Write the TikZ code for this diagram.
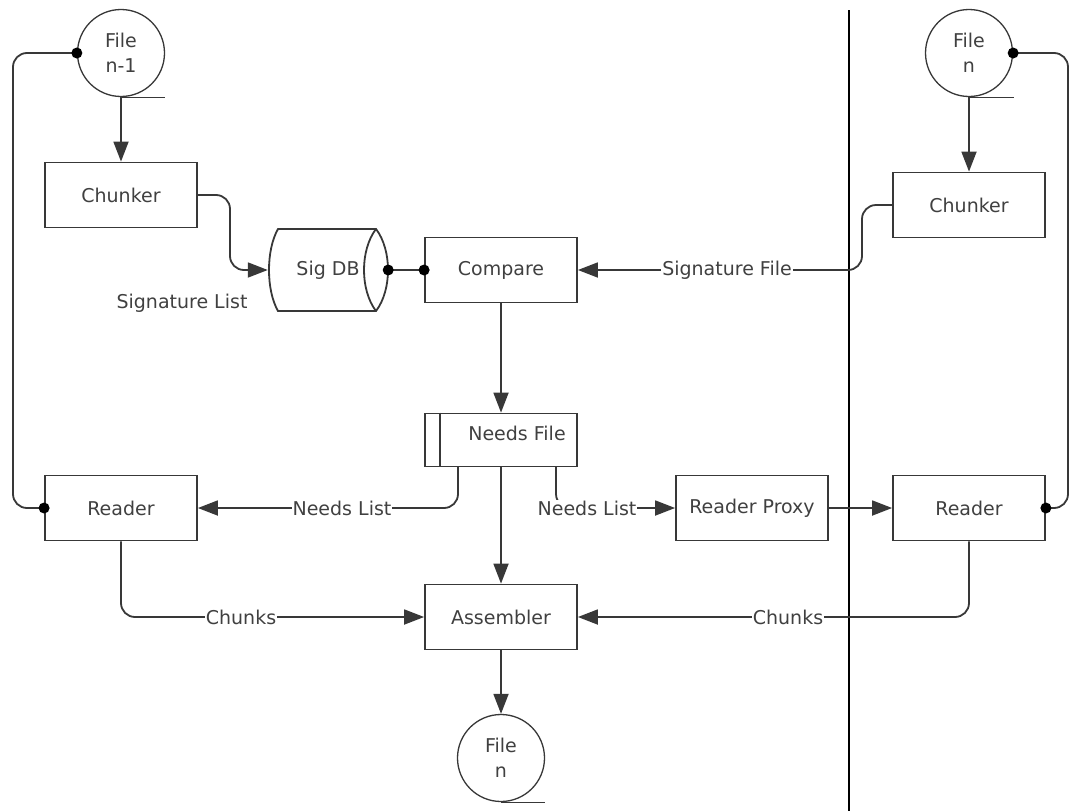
\documentclass[tikz,border=0pt]{standalone}
\usepackage{fontspec}
\setmainfont{DejaVu Sans}
\usetikzlibrary{arrows.meta}
\definecolor{ln}{HTML}{383838}
\definecolor{tx}{HTML}{404040}
\tikzset{
  every node/.style={text=tx, font=\fontsize{19}{25}\selectfont},
  proc/.style={draw=ln, line width=1.8pt, rectangle, minimum width=152pt, minimum height=65pt, inner sep=0pt},
  filenode/.style={draw=ln, line width=1.3pt, circle, minimum size=87pt, inner sep=0pt, align=center},
  lbl/.style={fill=white, inner sep=1pt},
  conn/.style={draw=ln, line width=1.8pt, rounded corners=14pt},
  arr/.style={conn, -{Triangle[length=20pt,width=15pt]}},
  dotc/.style={fill=black}
}
\begin{document}
\begin{tikzpicture}[x=1pt,y=-1pt]
\useasboundingbox (0,0) rectangle (1070,811);
% separator
\draw[line width=2.4pt, black] (849,10) -- (849,811);

% nodes
\node[filenode] (fileA) at (121,53) {File\\n-1};
\node[proc] (chunkA) at (121,195) {Chunker};
\node[minimum width=120pt, minimum height=82pt, inner sep=0pt] (sigdb) at (328,270) {Sig DB};
\node[proc] (compare) at (501,270) {Compare};
\node[proc, minimum height=53pt] (needs) at (501,440) {};
\node (needstxt) at (517,433) {Needs File};
\node[proc] (readerL) at (121,508) {Reader};
\node[proc] (proxy) at (752,508) {Reader Proxy};
\node[proc] (readerR) at (969,508) {Reader};
\node[proc] (chunkR) at (969,205) {Chunker};
\node[filenode] (fileR) at (969,53) {File\\n};
\node[proc] (asm) at (501,617) {Assembler};
\node[filenode] (fileN) at (501,758) {File\\n};

% file underlines
\draw[ln, line width=1.3pt] (fileA.south) -- ++(44,0);
\draw[ln, line width=1.3pt] (fileR.south) -- ++(45,0);
\draw[ln, line width=1.3pt] (fileN.south) -- ++(44,0);

% Sig DB cylinder
\draw[ln, line width=1.8pt] (278,229) -- (376,229)
  .. controls (392,250) and (392,290) .. (376,311) -- (278,311)
  .. controls (266,290) and (266,250) .. (278,229) -- cycle;
\draw[ln, line width=1.8pt] (376,229) .. controls (360,250) and (360,290) .. (376,311);

% Needs File inner line
\draw[ln, line width=1.8pt] (needs.north west) ++(16,0) coordinate (nfA) -- (nfA |- needs.south);

% coordinates
\coordinate (xL) at (13,0);
\coordinate (xR) at (1068,0);
\coordinate (xC) at (230,0);
\coordinate (xS) at (862,0);
\coordinate (nb1) at (458,466);
\coordinate (nb2) at (556,466);

% connectors
\draw[arr] (fileA.south) -- (chunkA.north);
\draw[arr] (fileR.south) -- (chunkR.north);
\draw[conn] (fileA.west) -- (fileA.west -| xL) -- (readerL.west -| xL) -- (readerL.west);
\draw[conn] (fileR.east) -- (fileR.east -| xR) -- (readerR.east -| xR) -- (readerR.east);
\draw[arr] (chunkA.east) -- (chunkA.east -| xC) -- (sigdb.west -| xC) -- (sigdb.west);
\draw[conn] (sigdb.east) -- (compare.west);
\draw[arr] (chunkR.west) -- (chunkR.west -| xS) -- (compare.east -| xS) -- (compare.east);
\draw[arr] (compare.south) -- (needs.north);
\draw[arr] (nb1) -- (nb1 |- readerL.east) -- (readerL.east);
\draw[arr] (nb2) -- (nb2 |- proxy.west) -- (proxy.west);
\draw[arr] (proxy.east) -- (readerR.west);
\draw[arr] (needs.south) -- (asm.north);
\draw[arr] (readerL.south) -- (readerL.south |- asm.west) -- (asm.west);
\draw[arr] (readerR.south) -- (readerR.south |- asm.east) -- (asm.east);
\draw[arr] (asm.south) -- (fileN.north);

% dots
\fill[dotc] (fileA.west) circle (5.5pt);
\fill[dotc] (fileR.east) circle (5.5pt);
\fill[dotc] (readerL.west) circle (5.5pt);
\fill[dotc] (readerR.east) circle (5.5pt);
\fill[dotc] (sigdb.east) circle (5.5pt);
\fill[dotc] (compare.west) circle (5.5pt);

% labels
\node[lbl] (l1) at (727,270) {Signature File};
\node (l2) at (182,303) {Signature List};
\node[lbl] (l3) at (342,508) {Needs List};
\node[lbl] (l4) at (587,508) {Needs List};
\node[lbl] (l5) at (241,617) {Chunks};
\node[lbl] (l6) at (788,617) {Chunks};
\end{tikzpicture}
\end{document}
